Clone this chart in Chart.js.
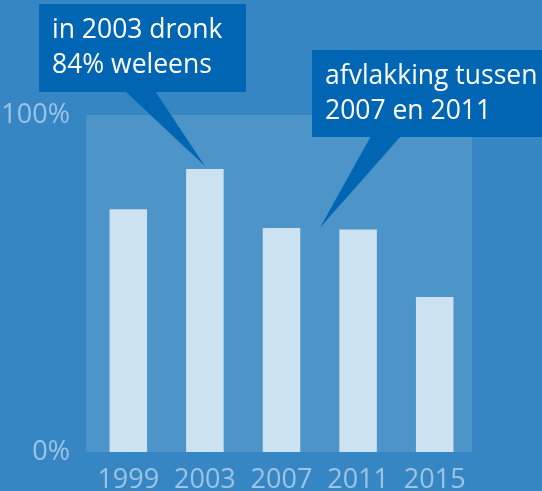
<!DOCTYPE html>
<html>
<head>
<meta charset="utf-8">
<script src="https://cdn.jsdelivr.net/npm/chart.js@4"></script>
<style>
  html, body { margin: 0; padding: 0; background: #3586c3; }
  canvas { display: block; }
</style>
</head>
<body>
<canvas id="chart" width="542" height="491"></canvas>
<script>
const years = ['1999', '2003', '2007', '2011', '2015'];
const percentages = [72, 84, 66.5, 66, 46];
const yTicks = [0, 100];

const callout1Lines = ['in 2003 dronk', '84% weleens'];
const callout2Lines = ['afvlakking tussen', '2007 en 2011'];

const FONT = '"Open Sans", Lato, sans-serif';

const backdrop = {
    id: 'backdrop',
    beforeDraw(chart) {
        const { ctx, chartArea: a } = chart;
        ctx.save();
        ctx.fillStyle = '#3586c3';
        ctx.fillRect(0, 0, chart.width, chart.height);
        // plot panel is a bit wider on the left than the category band
        ctx.fillStyle = '#4d94c8';
        ctx.fillRect(a.left - 4, a.top, a.right - a.left + 3, a.bottom - a.top);
        ctx.restore();
    }
};

function drawCallout(ctx, box, tail, tip, lines, textX, firstBaseline) {
    ctx.save();
    ctx.fillStyle = '#0066b3';
    ctx.fillRect(box.x, box.y, box.w, box.h);
    ctx.beginPath();
    ctx.moveTo(tail[0], box.y + box.h - 1);
    ctx.lineTo(tail[1], box.y + box.h - 1);
    ctx.lineTo(tip.x, tip.y);
    ctx.closePath();
    ctx.fill();
    ctx.fillStyle = '#ffffff';
    ctx.font = '26.5px ' + FONT;
    ctx.textBaseline = 'alphabetic';
    lines.forEach((l, i) => ctx.fillText(l, textX, firstBaseline + i * 35));
    ctx.restore();
}

const callouts = {
    id: 'callouts',
    afterDraw(chart) {
        const { ctx } = chart;
        const x = chart.scales.x, y = chart.scales.y;
        // tip above the 2003 bar
        const tip1 = { x: x.getPixelForValue(1), y: y.getPixelForValue(percentages[1]) - 3 };
        drawCallout(ctx, { x: 39, y: 4, w: 207, h: 88 }, [125, 155], tip1, callout1Lines, 52, 38);
        // tip between 2007 and 2011
        const tip2 = { x: (x.getPixelForValue(2) + x.getPixelForValue(3)) / 2, y: y.getPixelForValue(percentages[2]) };
        drawCallout(ctx, { x: 312, y: 50, w: 230, h: 87 }, [371, 401], tip2, callout2Lines, 325, 84);
    }
};

new Chart(document.getElementById('chart'), {
    type: 'bar',
    data: {
        labels: years,
        datasets: [{
            data: percentages,
            backgroundColor: '#cde2f0',
            borderWidth: 0,
            barPercentage: 0.49,
            categoryPercentage: 1
        }]
    },
    options: {
        responsive: false,
        animation: false,
        layout: { padding: { top: 115, right: 69, left: 0, bottom: 0 } },
        plugins: { legend: { display: false }, tooltip: { enabled: false } },
        scales: {
            x: {
                grid: { display: false },
                border: { display: false },
                ticks: { color: '#9cc4e4', font: { family: FONT, size: 27 }, padding: 4, maxRotation: 0 },
                afterFit(scale) { scale.height = 39; }
            },
            y: {
                min: 0,
                max: 100,
                grid: { display: false },
                border: { display: false },
                afterBuildTicks(scale) { scale.ticks = yTicks.map(v => ({ value: v })); },
                ticks: {
                    color: '#9cc4e4',
                    font: { family: FONT, size: 27 },
                    padding: 12,
                    callback: v => v + '%'
                },
                afterFit(scale) { scale.width = 90; }
            }
        }
    },
    plugins: [backdrop, callouts]
});
</script>
</body>
</html>
